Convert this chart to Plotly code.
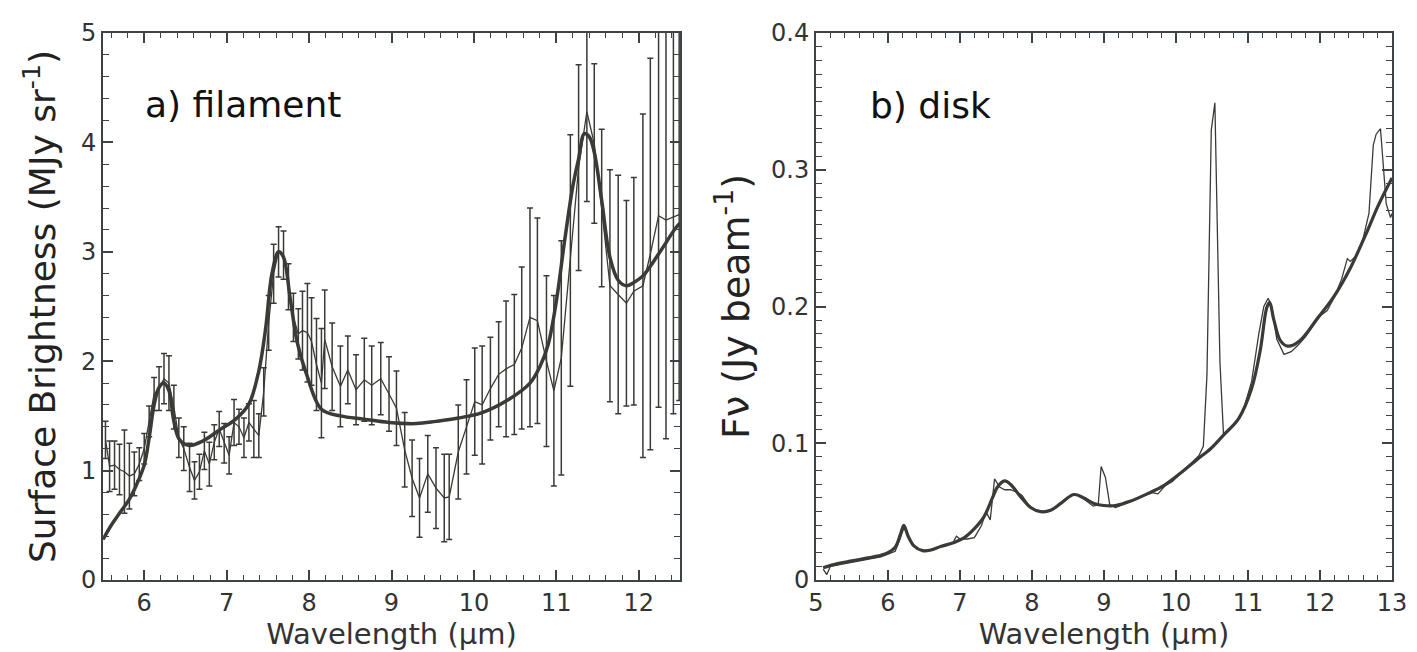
import plotly.graph_objects as go

# ---- a) filament: measured spectrum (thin line + 1 sigma bars) ----
fil_wave = [5.53, 5.58, 5.64, 5.70, 5.76, 5.82, 5.88, 5.94, 6.00, 6.06,
            6.12, 6.18, 6.24, 6.30, 6.36, 6.42, 6.48, 6.55, 6.61, 6.67,
            6.73, 6.79, 6.85, 6.91, 6.97, 7.03, 7.09, 7.15, 7.21, 7.27,
            7.33, 7.39, 7.45, 7.51, 7.57, 7.63, 7.69, 7.75, 7.81, 7.87,
            7.92, 7.98, 8.03, 8.09, 8.15, 8.19, 8.28, 8.38, 8.47, 8.57,
            8.67, 8.76, 8.87, 8.97, 9.06, 9.16, 9.25, 9.34, 9.44, 9.54,
            9.64, 9.70, 9.81, 9.91, 10.01, 10.10, 10.20, 10.30, 10.39, 10.49,
            10.58, 10.68, 10.77, 10.88, 10.97, 11.06, 11.17, 11.27, 11.37, 11.46,
            11.55, 11.65, 11.75, 11.85, 11.94, 12.05, 12.14, 12.24, 12.33, 12.42,
            12.49]
fil_flux = [1.28, 1.04, 1.05, 1.01, 0.99, 0.95, 0.97, 1.06, 1.20, 1.45,
            1.70, 1.75, 1.84, 1.80, 1.58, 1.30, 1.20, 1.03, 0.91, 0.99,
            1.18, 1.06, 1.26, 1.38, 1.25, 1.14, 1.44, 1.40, 1.30, 1.44,
            1.38, 1.32, 1.72, 2.35, 2.80, 3.00, 2.97, 2.68, 2.40, 2.25,
            2.28, 2.26, 2.18, 1.97, 1.80, 2.20, 1.95, 1.77, 1.92, 1.74,
            1.83, 1.78, 1.84, 1.70, 1.57, 1.19, 0.93, 0.75, 0.97, 0.84,
            0.75, 0.76, 1.17, 1.40, 1.63, 1.60, 1.75, 1.88, 1.93, 1.97,
            2.12, 2.40, 2.37, 2.00, 1.73, 2.03, 2.92, 3.77, 4.28, 3.99,
            3.40, 2.69, 2.61, 2.53, 2.64, 2.69, 2.98, 3.33, 3.29, 3.32,
            3.34]
fil_err = [0.17, 0.23, 0.22, 0.23, 0.38, 0.30, 0.20, 0.15, 0.14, 0.14,
           0.15, 0.20, 0.23, 0.25, 0.20, 0.18, 0.20, 0.22, 0.17, 0.16,
           0.17, 0.20, 0.16, 0.16, 0.18, 0.17, 0.21, 0.16, 0.18, 0.17,
           0.26, 0.20, 0.22, 0.25, 0.27, 0.23, 0.22, 0.21, 0.22, 0.23,
           0.36, 0.45, 0.40, 0.42, 0.50, 0.45, 0.40, 0.37, 0.31, 0.32,
           0.38, 0.36, 0.33, 0.34, 0.34, 0.34, 0.35, 0.36, 0.35, 0.37,
           0.40, 0.39, 0.43, 0.43, 0.49, 0.54, 0.47, 0.48, 0.62, 0.64,
           0.74, 1.00, 0.94, 0.78, 0.87, 1.07, 1.15, 0.94, 0.82, 0.73,
           0.72, 1.06, 1.09, 0.94, 1.04, 1.57, 1.79, 1.75, 2.00, 1.80,
           1.70]

# ---- a) filament: model fit (thick line) ----
fil_fit_wave = [5.50, 5.60, 5.70, 5.82, 5.90, 6.00, 6.06, 6.12, 6.18, 6.24,
                6.30, 6.36, 6.43, 6.55, 6.71, 6.91, 7.11, 7.27, 7.39, 7.47,
                7.55, 7.63, 7.69, 7.77, 7.86, 7.97, 8.15, 8.38, 8.67, 8.97,
                9.30, 9.54, 9.81, 10.10, 10.40, 10.68, 10.80, 10.90, 11.00, 11.10,
                11.20, 11.27, 11.34, 11.40, 11.46, 11.55, 11.65, 11.75, 11.85, 11.94,
                12.05, 12.24, 12.45, 12.50]
fil_fit_flux = [0.37, 0.50, 0.61, 0.74, 0.86, 1.05, 1.30, 1.60, 1.76, 1.80,
                1.73, 1.45, 1.28, 1.23, 1.27, 1.37, 1.47, 1.61, 1.91, 2.28,
                2.80, 3.00, 2.95, 2.58, 2.16, 1.88, 1.56, 1.50, 1.47, 1.44,
                1.43, 1.45, 1.48, 1.53, 1.64, 1.80, 1.95, 2.15, 2.55, 3.10,
                3.60, 3.85, 4.08, 4.05, 3.91, 3.47, 2.95, 2.74, 2.69, 2.72,
                2.78, 2.98, 3.22, 3.26]

# ---- b) disk: measured spectrum (thin line) ----
disk_wave = [5.10, 5.15, 5.20, 5.30, 5.40, 5.50, 5.60, 5.70, 5.80, 5.90,
             6.00, 6.10, 6.16, 6.22, 6.28, 6.34, 6.40, 6.50, 6.60, 6.70,
             6.80, 6.90, 6.95, 7.00, 7.10, 7.20, 7.30, 7.36, 7.42, 7.48,
             7.55, 7.62, 7.70, 7.80, 7.86, 7.95, 8.05, 8.15, 8.25, 8.35,
             8.45, 8.55, 8.65, 8.75, 8.85, 8.92, 8.96, 9.02, 9.08, 9.16,
             9.25, 9.35, 9.45, 9.55, 9.65, 9.75, 9.85, 9.95, 10.05, 10.15,
             10.25, 10.32, 10.38, 10.43, 10.49, 10.54, 10.61, 10.66, 10.75, 10.85,
             10.95, 11.05, 11.15, 11.22, 11.28, 11.33, 11.40, 11.50, 11.60, 11.70,
             11.80, 11.90, 12.00, 12.10, 12.20, 12.30, 12.38, 12.42, 12.50, 12.60,
             12.68, 12.74, 12.78, 12.84, 12.92, 12.98, 13.00]
disk_flux = [0.008, 0.004, 0.010, 0.011, 0.012, 0.013, 0.014, 0.015, 0.016, 0.017,
             0.019, 0.021, 0.029, 0.038, 0.033, 0.026, 0.023, 0.021, 0.022, 0.024,
             0.025, 0.027, 0.032, 0.030, 0.030, 0.031, 0.040, 0.050, 0.044, 0.074,
             0.068, 0.066, 0.066, 0.064, 0.062, 0.055, 0.051, 0.050, 0.051, 0.054,
             0.058, 0.062, 0.062, 0.058, 0.054, 0.055, 0.083, 0.075, 0.055, 0.053,
             0.055, 0.057, 0.059, 0.062, 0.064, 0.063, 0.069, 0.072, 0.077, 0.082,
             0.087, 0.091, 0.098, 0.150, 0.329, 0.349, 0.160, 0.106, 0.110, 0.116,
             0.127, 0.145, 0.180, 0.200, 0.206, 0.200, 0.176, 0.165, 0.167, 0.172,
             0.178, 0.186, 0.193, 0.197, 0.207, 0.220, 0.235, 0.233, 0.237, 0.250,
             0.268, 0.318, 0.326, 0.330, 0.275, 0.265, 0.268]

# ---- b) disk: model fit (thick line) ----
disk_fit_wave = [5.10, 5.30, 5.50, 5.70, 5.90, 6.00, 6.10, 6.17, 6.22, 6.28,
                 6.36, 6.48, 6.60, 6.73, 6.92, 7.06, 7.19, 7.33, 7.45, 7.52,
                 7.62, 7.70, 7.84, 7.98, 8.12, 8.26, 8.40, 8.58, 8.72, 8.86,
                 9.00, 9.16, 9.37, 9.60, 9.83, 10.06, 10.29, 10.48, 10.66, 10.87,
                 11.05, 11.17, 11.26, 11.30, 11.36, 11.45, 11.55, 11.72, 11.96, 12.19,
                 12.42, 12.63, 12.81, 13.00]
disk_fit_flux = [0.009, 0.012, 0.014, 0.016, 0.018, 0.020, 0.024, 0.033, 0.040, 0.032,
                 0.025, 0.0215, 0.022, 0.0245, 0.0275, 0.031, 0.037, 0.046, 0.060, 0.068,
                 0.0725, 0.070, 0.061, 0.053, 0.050, 0.051, 0.056, 0.0625, 0.060, 0.056,
                 0.0545, 0.0545, 0.0577, 0.063, 0.069, 0.078, 0.088, 0.096, 0.106, 0.118,
                 0.140, 0.168, 0.199, 0.203, 0.190, 0.175, 0.171, 0.175, 0.191, 0.207,
                 0.228, 0.252, 0.274, 0.294]

LINE = '#3a3a36'
AXIS = '#3c4246'
FONT = 'DejaVu Sans'

fig = go.Figure()

fig.add_trace(go.Scatter(x=fil_wave, y=fil_flux, mode='lines',
                         line=dict(color=LINE, width=1.3),
                         error_y=dict(type='data', array=fil_err, color=LINE,
                                      thickness=1.5, width=3),
                         xaxis='x', yaxis='y', showlegend=False))
fig.add_trace(go.Scatter(x=fil_fit_wave, y=fil_fit_flux, mode='lines',
                         line=dict(color=LINE, width=3.5, shape='spline'),
                         xaxis='x', yaxis='y', showlegend=False))
fig.add_trace(go.Scatter(x=disk_wave, y=disk_flux, mode='lines',
                         line=dict(color=LINE, width=1.3),
                         xaxis='x2', yaxis='y2', showlegend=False))
fig.add_trace(go.Scatter(x=disk_fit_wave, y=disk_fit_flux, mode='lines',
                         line=dict(color=LINE, width=3.2, shape='spline'),
                         xaxis='x2', yaxis='y2', showlegend=False))

common = dict(showline=True, linecolor=AXIS, linewidth=2, mirror='allticks',
              ticks='inside', ticklen=10, tickwidth=1.5, tickcolor=AXIS,
              showgrid=False, zeroline=False, automargin=False,
              tickfont=dict(family=FONT, size=24, color='#333333'))
minor_x = dict(ticks='inside', ticklen=5, tickwidth=1.3, tickcolor=AXIS, dtick=0.2,
               showgrid=False)

y_dom = [80 / 652, 627 / 652]
xtitle_font = dict(family=FONT, size=29, color='#333333')

fig.update_layout(
    width=1417, height=652,
    margin=dict(l=0, r=0, t=0, b=0),
    template='none',
    paper_bgcolor='white', plot_bgcolor='white',
    xaxis=dict(domain=[95 / 1417, 672 / 1417], range=[5.5, 12.5], dtick=1,
               minor=minor_x, anchor='y',
               title=dict(text='Wavelength (μm)', standoff=8, font=xtitle_font),
               **common),
    yaxis=dict(domain=y_dom, range=[0, 5], dtick=1, anchor='x',
               minor=dict(ticks='inside', ticklen=6, tickwidth=1.3, tickcolor=AXIS,
                         dtick=0.2, showgrid=False),
               title=dict(text='Surface Brightness (MJy sr<sup>-1</sup>)', standoff=14,
                          font=dict(family=FONT, size=36, color='#222222')),
               **common),
    xaxis2=dict(domain=[808 / 1417, 1384 / 1417], range=[5, 13], dtick=1,
                minor=minor_x, anchor='y2',
                title=dict(text='Wavelength (μm)', standoff=8, font=xtitle_font),
                **common),
    yaxis2=dict(domain=y_dom, range=[0, 0.4], dtick=0.1, anchor='x2',
                minor=dict(ticks='inside', ticklen=6, tickwidth=1.3, tickcolor=AXIS,
                           dtick=0.01, showgrid=False),
                title=dict(text='Fν (Jy beam<sup>-1</sup>)', standoff=10,
                           font=dict(family=FONT, size=38, color='#222222')),
                **common),
    # unlabeled half-step ticks (0.05, 0.15, ...) on the disk panel
    yaxis3=dict(overlaying='y2', anchor='x2', range=[0, 0.4], dtick=0.05,
                showticklabels=False, showline=True, linecolor=AXIS, linewidth=2,
                mirror='allticks', ticks='inside', ticklen=10, tickwidth=1.5,
                tickcolor=AXIS, showgrid=False, zeroline=False, automargin=False),
    annotations=[
        dict(text='a) filament', x=5.98, y=4.35, xref='x', yref='y',
             xanchor='left', yanchor='middle', showarrow=False,
             font=dict(family=FONT, size=36, color='#111111')),
        dict(text='b) disk', x=5.72, y=0.347, xref='x2', yref='y2',
             xanchor='left', yanchor='middle', showarrow=False,
             font=dict(family=FONT, size=36, color='#111111')),
    ],
)

fig.write_html("out.html")
